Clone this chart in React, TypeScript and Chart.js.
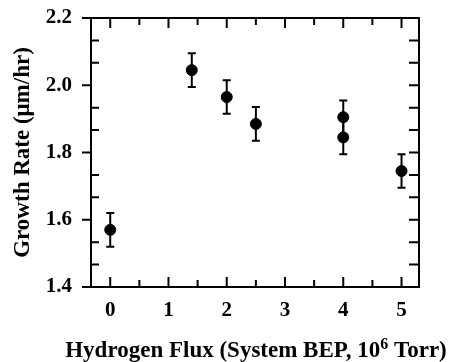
import { useEffect, useRef } from "react";
import { Chart, registerables } from "chart.js";

Chart.register(...registerables);

const fluxValues = [0, 1.4, 2, 2.5, 4, 4, 5];
const growthRates = [1.57, 2.045, 1.965, 1.885, 1.905, 1.845, 1.745];
const growthErrors = [0.05, 0.05, 0.05, 0.05, 0.05, 0.05, 0.05];
const xTickValues = [0, 1, 2, 3, 4, 5];
const yTickValues = [1.4, 1.6, 1.8, 2.0, 2.2];
const xTitleParts = ["Hydrogen Flux (System BEP, 10", "6", " Torr)"];
const yTitle = "Growth Rate (\u03bcm/hr)";

const FONT = '"Liberation Serif", "Times New Roman", serif';
const TITLE_SIZE = 23;

const errorBarPlugin = {
  id: "errorBars",
  beforeDatasetsDraw(chart: any) {
    const { ctx, scales } = chart;
    const x = scales.x;
    const y = scales.y;
    ctx.save();
    ctx.strokeStyle = "#000";
    ctx.lineWidth = 2;
    for (let i = 0; i < fluxValues.length; i++) {
      const px = x.getPixelForValue(fluxValues[i]);
      const top = y.getPixelForValue(growthRates[i] + growthErrors[i]);
      const bot = y.getPixelForValue(growthRates[i] - growthErrors[i]);
      ctx.beginPath();
      ctx.moveTo(px, top);
      ctx.lineTo(px, bot);
      ctx.moveTo(px - 4, top);
      ctx.lineTo(px + 4, top);
      ctx.moveTo(px - 4, bot);
      ctx.lineTo(px + 4, bot);
      ctx.stroke();
    }
    ctx.restore();
  },
};

const framePlugin = {
  id: "frame",
  afterDatasetsDraw(chart: any) {
    const { ctx, chartArea: a, scales } = chart;
    const x = scales.x;
    const y = scales.y;
    ctx.save();
    ctx.strokeStyle = "#000";
    ctx.lineWidth = 2;
    ctx.beginPath();
    ctx.rect(a.left, a.top, a.right - a.left, a.bottom - a.top);
    const yMin = yTickValues[0];
    const yStep = (yTickValues[1] - yTickValues[0]) / 3;
    const yCount = (yTickValues.length - 1) * 3;
    for (let i = 0; i <= yCount; i++) {
      const p = y.getPixelForValue(yMin + i * yStep);
      if (i % 3 === 0) {
        ctx.moveTo(a.left - 9, p);
        ctx.lineTo(a.left, p);
      } else {
        ctx.moveTo(a.left, p);
        ctx.lineTo(a.left + 8, p);
      }
      if (i > 0 && i < yCount) {
        ctx.moveTo(a.right, p);
        ctx.lineTo(a.right - 10, p);
      }
    }
    const xMin = xTickValues[0];
    const xCount = (xTickValues.length - 1) * 2;
    for (let i = 0; i <= xCount; i++) {
      const p = x.getPixelForValue(xMin + i * 0.5);
      const len = i % 2 === 0 ? 10 : 7;
      ctx.moveTo(p, a.bottom);
      ctx.lineTo(p, a.bottom - len);
      ctx.moveTo(p, a.top);
      ctx.lineTo(p, a.top + len);
    }
    ctx.stroke();

    // x-axis title with superscript
    const mainFont = `bold ${TITLE_SIZE}px ${FONT}`;
    const supFont = `bold ${Math.round(TITLE_SIZE * 0.68)}px ${FONT}`;
    ctx.fillStyle = "#000";
    ctx.textBaseline = "alphabetic";
    ctx.textAlign = "left";
    ctx.font = mainFont;
    const w0 = ctx.measureText(xTitleParts[0]).width;
    const w2 = ctx.measureText(xTitleParts[2]).width;
    ctx.font = supFont;
    const w1 = ctx.measureText(xTitleParts[1]).width;
    const total = w0 + w1 + w2;
    const cx = (a.left + a.right) / 2 + 1;
    const baseY = a.bottom + 70;
    let sx = cx - total / 2;
    ctx.font = mainFont;
    ctx.fillText(xTitleParts[0], sx, baseY);
    sx += w0;
    ctx.font = supFont;
    ctx.fillText(xTitleParts[1], sx, baseY - 8);
    sx += w1;
    ctx.font = mainFont;
    ctx.fillText(xTitleParts[2], sx, baseY);
    ctx.restore();
  },
};

export default function App() {
  const canvasRef = useRef<HTMLCanvasElement | null>(null);

  useEffect(() => {
    const canvas = canvasRef.current;
    if (!canvas) return;
    const chart = new Chart(canvas, {
      type: "scatter",
      data: {
        datasets: [
          {
            data: fluxValues.map((v, i) => ({ x: v, y: growthRates[i] })),
            backgroundColor: "#000",
            borderColor: "#000",
            pointRadius: 5.5,
            pointHoverRadius: 5.5,
          },
        ],
      },
      options: {
        responsive: false,
        animation: false,
        devicePixelRatio: 1,
        layout: { padding: { top: 18, right: 34, left: 0, bottom: 0 } },
        plugins: {
          legend: { display: false },
          tooltip: { enabled: false },
        },
        scales: {
          x: {
            type: "linear",
            min: -0.33,
            max: 5.3,
            grid: { display: false, drawTicks: false },
            border: { display: false },
            afterBuildTicks: (scale: any) => {
              scale.ticks = xTickValues.map((v) => ({ value: v }));
            },
            afterFit: (scale: any) => {
              scale.height = 75;
              scale.paddingLeft = 0;
              scale.paddingRight = 0;
            },
            ticks: {
              color: "#000",
              padding: 11,
              font: { family: FONT, size: 21, weight: "bold" },
              callback: (v: any) => String(v),
            },
            title: { display: false },
          },
          y: {
            type: "linear",
            min: 1.4,
            max: 2.2,
            grid: { display: false, drawTicks: false },
            border: { display: false },
            afterBuildTicks: (scale: any) => {
              scale.ticks = yTickValues.map((v) => ({ value: v }));
            },
            afterFit: (scale: any) => {
              scale.width = 91;
              scale.paddingTop = 0;
              scale.paddingBottom = 0;
            },
            ticks: {
              color: "#000",
              padding: 19,
              font: { family: FONT, size: 21, weight: "bold" },
              callback: (v: any) => Number(v).toFixed(1),
            },
            title: {
              display: true,
              text: yTitle,
              color: "#000",
              padding: { top: 9, bottom: 0 },
              font: { family: FONT, size: TITLE_SIZE, weight: "bold" },
            },
          },
        },
      },
      plugins: [errorBarPlugin, framePlugin],
    });
    return () => chart.destroy();
  }, []);

  return (
    <div style={{ position: "absolute", left: 0, top: 0, width: 453, height: 362, background: "#fff" }}>
      <canvas ref={canvasRef} width={453} height={362} style={{ display: "block" }} />
    </div>
  );
}
